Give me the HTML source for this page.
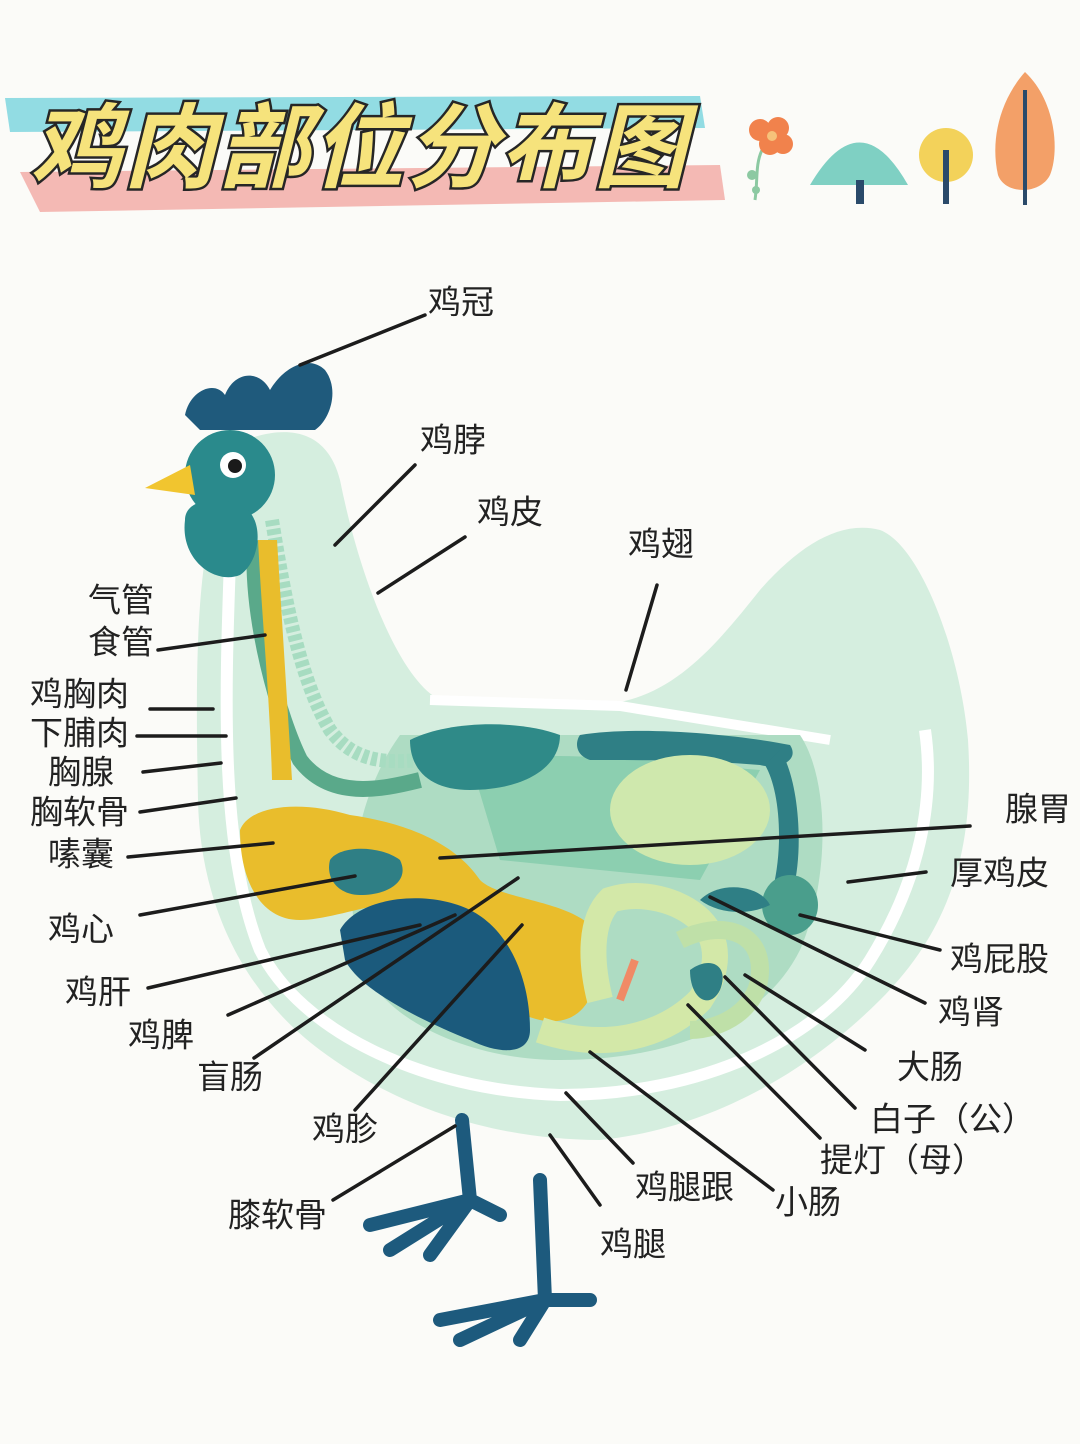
<!DOCTYPE html>
<html><head><meta charset="utf-8"><style>
html,body{margin:0;padding:0;background:#fbfbf8;}
svg{display:block;}
text{font-family:"Liberation Sans","Noto Sans CJK SC",sans-serif;}
</style></head><body>
<svg width="1080" height="1444" viewBox="0 0 1080 1444" xmlns="http://www.w3.org/2000/svg">
<rect width="1080" height="1444" fill="#fbfbf8"/>
<path d="M5 98 L700 96 L705 128 L10 132 Z" fill="#7fd6df" opacity="0.85"/>
<path d="M20 172 L720 165 L725 200 L40 212 Z" fill="#f2a9a3" opacity="0.8"/>
<text x="30" y="180" font-size="92" font-weight="bold" font-style="italic" fill="#f6e37c" stroke="#262626" stroke-width="5" paint-order="stroke" letter-spacing="2">鸡肉部位分布图</text>
<g>
 <path d="M755 200 C758 180 755 165 762 150" stroke="#8cc9a2" stroke-width="3" fill="none"/>
 <circle cx="752" cy="175" r="5" fill="#8cc9a2"/><circle cx="756" cy="190" r="4" fill="#8cc9a2"/>
 <circle cx="760" cy="130" r="11" fill="#f1824c"/><circle cx="778" cy="128" r="11" fill="#f1824c"/><circle cx="770" cy="144" r="11" fill="#f1824c"/><circle cx="783" cy="144" r="10" fill="#f1824c"/>
 <circle cx="772" cy="136" r="5" fill="#f6c27a"/>
 <path d="M810 185 Q860 100 908 185 Z" fill="#7fd0c3"/>
 <rect x="856" y="180" width="8" height="24" fill="#2a4a6a"/>
 <circle cx="946" cy="155" r="27" fill="#f3d25a"/>
 <rect x="943" y="150" width="6" height="54" fill="#2a4a6a"/>
 <path d="M1025 72 C1055 100 1060 150 1050 175 C1040 195 1005 195 998 175 C990 140 1000 100 1025 72Z" fill="#f3a068"/>
 <line x1="1025" y1="90" x2="1025" y2="205" stroke="#2a4a6a" stroke-width="4"/>
</g>
<path d="M245 440 C300 420 330 440 340 480 C360 580 400 680 440 700 L620 702 C680 690 720 640 760 590 C800 545 840 520 880 530 C920 545 960 650 968 740 C975 850 950 930 880 1000 C800 1080 700 1130 600 1140 C500 1140 400 1110 320 1050 C240 990 200 900 198 800 C196 700 195 600 210 530 C218 490 228 455 245 440Z" fill="#d5eedf"/>
<path d="M230 560 C225 700 220 850 260 950 C300 1030 420 1090 560 1095 C700 1095 820 1040 870 960 C920 880 935 800 925 730" fill="none" stroke="#fff" stroke-width="12"/>
<path d="M430 700 L620 706 L830 740" fill="none" stroke="#fff" stroke-width="10"/>
<path d="M400 735 L800 735 C830 780 830 880 800 950 C760 1030 660 1060 560 1060 C470 1060 380 1020 360 960 C340 880 360 790 400 735Z" fill="#aedcc3"/>
<path d="M470 760 C560 750 640 760 760 770 L700 880 L500 860Z" fill="#8ccfb0"/>
<path d="M255 540 C250 620 280 720 300 760 C330 800 380 790 420 780" fill="none" stroke="#5aa98a" stroke-width="16"/>
<path d="M272 520 C285 600 300 680 330 730 C360 770 400 760 430 760" fill="none" stroke="#a7dcc1" stroke-width="14" stroke-dasharray="6 3"/>
<path d="M410 740 C450 720 520 720 560 735 C560 770 520 790 470 790 C430 790 410 770 410 740Z" fill="#2f8a88"/>
<path d="M580 735 C640 725 740 735 790 745 C800 760 780 770 760 765 C700 760 640 760 590 760 C575 755 575 742 580 735Z" fill="#2f7f85"/>
<path d="M780 750 C800 780 805 860 790 900 L770 900 C785 850 780 790 765 765Z" fill="#2f7f85"/>
<ellipse cx="690" cy="810" rx="80" ry="55" fill="#cfe8ad"/>
<path d="M258 540 C262 620 270 700 272 780 L292 780 C287 700 282 620 277 540Z" fill="#e9bd2c"/>
<path d="M240 830 C250 805 300 800 350 815 C420 825 460 850 480 880 C500 900 570 900 595 930 C605 980 590 1030 540 1020 C500 1010 480 990 470 960 L420 900 C380 900 330 920 300 920 C260 920 240 880 240 830Z" fill="#e9bd2c"/>
<path d="M330 860 C340 845 380 845 400 860 C410 880 390 895 360 895 C340 895 325 880 330 860Z" fill="#2f7f85"/>
<path d="M340 930 C360 895 430 890 470 910 C510 930 530 980 530 1030 C530 1055 500 1055 470 1040 C420 1020 360 990 345 960 Z" fill="#1b5a7c"/>
<path d="M540 1030 C600 1050 660 1040 700 1000 C720 970 720 940 700 920 C680 900 640 890 610 900 C590 920 590 960 600 1000" fill="none" stroke="#d3e8a8" stroke-width="26"/>
<path d="M680 940 C720 920 760 930 760 970 C760 1010 720 1030 690 1030" fill="none" stroke="#bfe0a8" stroke-width="18"/>
<path d="M620 1000 L635 960" stroke="#f08a66" stroke-width="8"/>
<path d="M690 970 C710 955 730 965 720 990 C710 1010 690 1000 690 970Z" fill="#2f7f85"/>
<ellipse cx="790" cy="905" rx="28" ry="30" fill="#4a9e8c"/>
<path d="M700 900 C720 880 760 885 770 905 C750 915 720 915 700 900Z" fill="#2f7f85"/>
<path d="M185 415 C190 390 215 380 225 395 C235 370 260 370 270 390 C285 365 310 355 325 370 C340 390 330 420 315 430 L200 430Z" fill="#1f5a7c"/>
<circle cx="230" cy="475" r="45" fill="#2a8a8c"/>
<path d="M185 520 C185 500 215 495 240 505 C265 515 262 560 240 575 C215 585 180 560 185 520Z" fill="#2a8a8c"/>
<path d="M190 465 L145 488 L195 495Z" fill="#f1c52f"/>
<circle cx="233" cy="465" r="13" fill="#fff"/><circle cx="235" cy="466" r="7" fill="#1a1a1a"/>
<g stroke="#1d5a7d" fill="none" stroke-linecap="round">
 <path d="M462 1120 L470 1200 M470 1200 L370 1225 M470 1200 L390 1250 M470 1200 L430 1255 M470 1200 L500 1215" stroke-width="14"/>
 <path d="M540 1180 L545 1300 M545 1300 L440 1320 M545 1300 L460 1340 M545 1300 L520 1340 M545 1300 L590 1300" stroke-width="14"/>
</g>
<g stroke="#1c1c1c" stroke-width="3.5" stroke-linecap="round">
<line x1="425" y1="315" x2="300" y2="365"/>
<line x1="415" y1="465" x2="335" y2="545"/>
<line x1="465" y1="537" x2="378" y2="593"/>
<line x1="657" y1="585" x2="626" y2="690"/>
<line x1="158" y1="650" x2="265" y2="635"/>
<line x1="150" y1="709" x2="213" y2="709"/>
<line x1="137" y1="736" x2="226" y2="736"/>
<line x1="143" y1="772" x2="221" y2="763"/>
<line x1="140" y1="812" x2="236" y2="798"/>
<line x1="128" y1="857" x2="273" y2="843"/>
<line x1="970" y1="826" x2="440" y2="858"/>
<line x1="926" y1="872" x2="848" y2="882"/>
<line x1="140" y1="915" x2="355" y2="876"/>
<line x1="940" y1="950" x2="800" y2="915"/>
<line x1="148" y1="988" x2="420" y2="925"/>
<line x1="925" y1="1003" x2="710" y2="897"/>
<line x1="228" y1="1015" x2="455" y2="915"/>
<line x1="865" y1="1050" x2="745" y2="975"/>
<line x1="254" y1="1058" x2="518" y2="878"/>
<line x1="855" y1="1108" x2="725" y2="977"/>
<line x1="355" y1="1110" x2="522" y2="925"/>
<line x1="820" y1="1138" x2="688" y2="1005"/>
<line x1="633" y1="1163" x2="566" y2="1093"/>
<line x1="773" y1="1190" x2="590" y2="1052"/>
<line x1="333" y1="1200" x2="455" y2="1126"/>
<line x1="600" y1="1205" x2="550" y2="1135"/>
</g>
<g font-size="33" fill="#222" dominant-baseline="middle">
<text x="428" y="305">鸡冠</text>
<text x="420" y="443">鸡脖</text>
<text x="477" y="515">鸡皮</text>
<text x="628" y="547">鸡翅</text>
<text x="88" y="603">气管</text>
<text x="88" y="645">食管</text>
<text x="30" y="697">鸡胸肉</text>
<text x="30" y="736">下脯肉</text>
<text x="48" y="775">胸腺</text>
<text x="30" y="815">胸软骨</text>
<text x="48" y="857">嗉囊</text>
<text x="1005" y="812">腺胃</text>
<text x="950" y="876">厚鸡皮</text>
<text x="48" y="932">鸡心</text>
<text x="950" y="962">鸡屁股</text>
<text x="65" y="995">鸡肝</text>
<text x="938" y="1015">鸡肾</text>
<text x="128" y="1038">鸡脾</text>
<text x="897" y="1070">大肠</text>
<text x="197" y="1080">盲肠</text>
<text x="870" y="1122">白子（公）</text>
<text x="312" y="1132">鸡胗</text>
<text x="820" y="1163">提灯（母）</text>
<text x="635" y="1190">鸡腿跟</text>
<text x="775" y="1205">小肠</text>
<text x="228" y="1218">膝软骨</text>
<text x="600" y="1247">鸡腿</text>
</g>
</svg>
</body></html>
